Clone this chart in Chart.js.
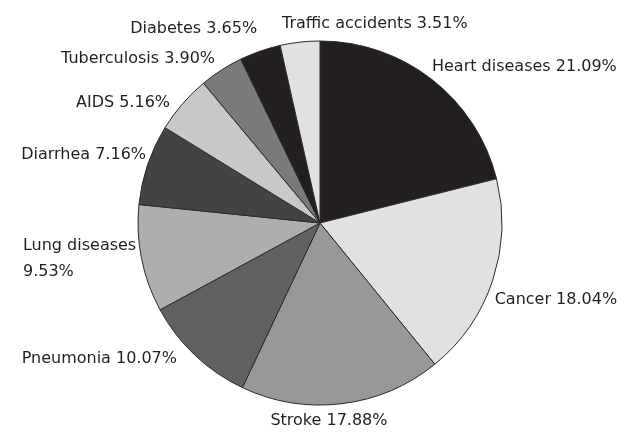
<!DOCTYPE html>
<html>
<head>
<meta charset="utf-8">
<script src="https://cdn.jsdelivr.net/npm/chart.js@4/dist/chart.umd.min.js"></script>
<style>
html,body{margin:0;padding:0;background:#fff;}
#c{display:block;}
</style>
</head>
<body>
<canvas id="c" width="630" height="443"></canvas>
<script>
// Data
const categories = ["Heart diseases", "Cancer", "Stroke", "Pneumonia", "Lung diseases", "Diarrhea", "AIDS", "Tuberculosis", "Diabetes", "Traffic accidents"];
const percents = [21.09, 18.04, 17.88, 10.07, 9.53, 7.16, 5.16, 3.90, 3.65, 3.51];
const percentLabels = ["21.09%", "18.04%", "17.88%", "10.07%", "9.53%", "7.16%", "5.16%", "3.90%", "3.65%", "3.51%"];

// Styles
const sliceColors = ["#231f20", "#e1e1e3", "#98989b", "#616164", "#aeaeb0", "#434345", "#c8c8ca", "#7a7a7d", "#231f20", "#e1e1e3"];
// Label layout relative to slice outer-edge midpoint: [dx, dy, align, multiline]
const labelLayout = [
  [0, -13, "left", false],
  [2, 19.5, "left", false],
  [-13, 17, "center", false],
  [-18, 4, "right", false],
  [-118.6, 0, "left", true],
  [-1.6, -9.6, "right", false],
  [-12.4, -1, "right", false],
  [-6.4, -11, "right", false],
  [-3, -22.5, "right", false],
  [-18, -18.5, "left", false]
];

const labelPlugin = {
  id: "sliceLabels",
  afterDatasetsDraw(chart) {
    const ctx = chart.ctx;
    const meta = chart.getDatasetMeta(0);
    ctx.save();
    ctx.font = "16px 'DejaVu Sans'";
    ctx.fillStyle = "#231f20";
    ctx.textBaseline = "middle";
    meta.data.forEach((arc, i) => {
      const p = arc.getProps(["x", "y", "startAngle", "endAngle", "outerRadius"], true);
      const mid = (p.startAngle + p.endAngle) / 2;
      const ex = p.x + Math.cos(mid) * p.outerRadius;
      const ey = p.y + Math.sin(mid) * p.outerRadius;
      const [dx, dy, align, multi] = labelLayout[i];
      ctx.textAlign = align;
      if (multi) {
        ctx.fillText(categories[i], ex + dx, ey + dy - 13);
        ctx.fillText(percentLabels[i], ex + dx, ey + dy + 13);
      } else {
        ctx.fillText(categories[i] + " " + percentLabels[i], ex + dx, ey + dy);
      }
    });
    ctx.restore();
  }
};

new Chart(document.getElementById("c"), {
  type: "pie",
  data: {
    labels: categories,
    datasets: [{
      data: percents,
      backgroundColor: sliceColors,
      borderColor: "#2a2a2a",
      borderWidth: 1,
      radius: 182
    }]
  },
  options: {
    responsive: false,
    animation: false,
    events: [],
    layout: { padding: { left: 10, top: 3, right: 0, bottom: 0 } },
    plugins: {
      legend: { display: false },
      tooltip: { enabled: false }
    }
  },
  plugins: [labelPlugin]
});
</script>
</body>
</html>
